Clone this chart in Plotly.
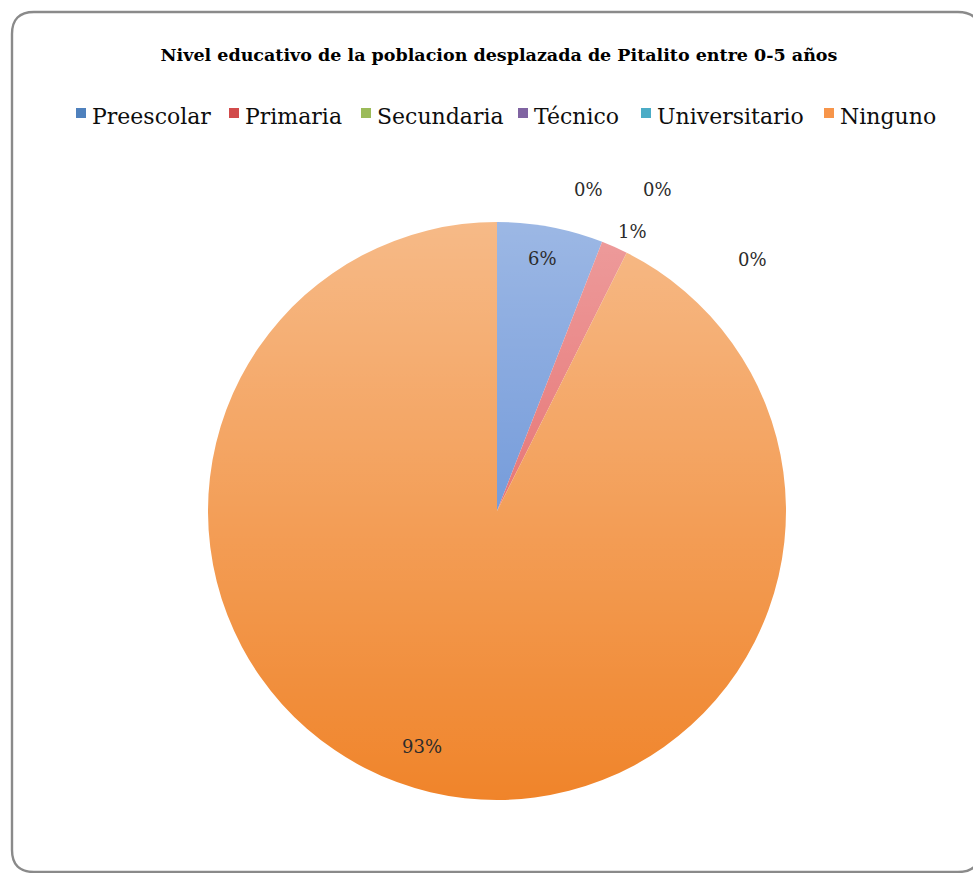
import base64
import plotly.graph_objects as go

# Datos: nivel educativo de la población desplazada (0-5 años)
categorias = ["Preescolar", "Primaria", "Secundaria", "Técnico", "Universitario", "Ninguno"]
personas = [8, 2, 0, 0, 0, 125]

titulo = "Nivel educativo de la poblacion desplazada de Pitalito entre 0-5 años"

# Colores de los sectores (tono base) y de los cuadros de la leyenda
colores = ["#4F80D0", "#E05050", "#9BBB59", "#8064A2", "#4BACC6", "#F0842A"]
colores_leyenda = ["#4F81BD", "#D24B4B", "#9BBB59", "#8064A2", "#4BACC6", "#F7954A"]

W, H = 973, 873


def fx(x):
    return x / W


def fy(y):
    return 1 - y / H


# Geometría del pastel (px)
cx, cy, r = 497, 511, 289

fig = go.Figure()
fig.add_trace(go.Pie(
    labels=categorias,
    values=personas,
    sort=False,
    direction="clockwise",
    rotation=0,
    textinfo="none",
    hoverinfo="label+percent",
    marker=dict(colors=colores, line=dict(width=0)),
    domain=dict(x=[fx(cx - r), fx(cx + r)], y=[fy(cy + r), fy(cy - r)]),
    showlegend=False,
))

# Sombreado vertical del pastel (más claro arriba); cubre un poco más que el
# círculo para que el borde quede también aclarado
svg = (
    '<svg xmlns="http://www.w3.org/2000/svg" width="200" height="200" viewBox="0 0 200 200">'
    '<defs><linearGradient id="g" x1="0" y1="0" x2="0" y2="1">'
    '<stop offset="0" stop-color="#ffffff" stop-opacity="0.44"/>'
    '<stop offset="1" stop-color="#ffffff" stop-opacity="0"/>'
    '</linearGradient></defs>'
    '<circle cx="100" cy="100" r="100" fill="url(#g)"/></svg>'
)
fuente_svg = "data:image/svg+xml;base64," + base64.b64encode(svg.encode()).decode()
r_sombra = r + 1.5

# Etiquetas de porcentaje
total = sum(personas)
pos_etiquetas = [(542, 258), (632, 232), (588, 189), (657, 189), (752, 259), (422, 746)]
anotaciones = []
for v, (x, y) in zip(personas, pos_etiquetas):
    anotaciones.append(dict(
        x=fx(x), y=fy(y), xref="paper", yref="paper",
        text=f"{round(100 * v / total)}%", showarrow=False,
        xanchor="center", yanchor="middle",
        font=dict(family="DejaVu Serif", size=18, color="#2b2b2b"),
    ))

# Leyenda: cuadro de color + texto
inicio_texto = [90, 243, 375, 532, 655, 838]
formas = []
for cat, col, xt in zip(categorias, colores_leyenda, inicio_texto):
    formas.append(dict(
        type="rect", xref="paper", yref="paper",
        x0=fx(xt - 14), x1=fx(xt - 4), y0=fy(118), y1=fy(108),
        fillcolor=col, line=dict(width=0),
    ))
    anotaciones.append(dict(
        x=fx(xt), y=fy(117), xref="paper", yref="paper",
        text=cat, showarrow=False, xanchor="left", yanchor="middle",
        font=dict(family="DejaVu Serif", size=22, color="#0d0d0d"),
    ))

# Marco redondeado del gráfico (el borde derecho queda fuera del lienzo)
x0, y0, x1, y1, rad = 12, 12, 980, 872, 22
pts = [
    ("M", [(x0 + rad, y0)]), ("L", [(x1 - rad, y0)]), ("Q", [(x1, y0), (x1, y0 + rad)]),
    ("L", [(x1, y1 - rad)]), ("Q", [(x1, y1), (x1 - rad, y1)]), ("L", [(x0 + rad, y1)]),
    ("Q", [(x0, y1), (x0, y1 - rad)]), ("L", [(x0, y0 + rad)]), ("Q", [(x0, y0), (x0 + rad, y0)]),
]
ruta = " ".join(cmd + " " + " ".join(f"{fx(a):.5f},{fy(b):.5f}" for a, b in p) for cmd, p in pts) + " Z"
formas.append(dict(type="path", xref="paper", yref="paper", path=ruta,
                   line=dict(color="#8A8A8A", width=2.4)))

fig.update_layout(
    width=W, height=H,
    margin=dict(l=0, r=0, t=0, b=0),
    paper_bgcolor="white",
    plot_bgcolor="white",
    title=dict(
        text=titulo, x=fx(499), y=fy(55), xanchor="center", yanchor="middle",
        font=dict(family="DejaVu Serif", size=17.5, color="#000000", weight="bold"),
    ),
    annotations=anotaciones,
    shapes=formas,
    images=[dict(
        source=fuente_svg, xref="paper", yref="paper",
        x=fx(cx), y=fy(cy), sizex=2 * r_sombra / W, sizey=2 * r_sombra / H,
        xanchor="center", yanchor="middle", sizing="stretch", layer="above",
    )],
    xaxis=dict(visible=False),
    yaxis=dict(visible=False),
)

fig.write_html("out.html")
